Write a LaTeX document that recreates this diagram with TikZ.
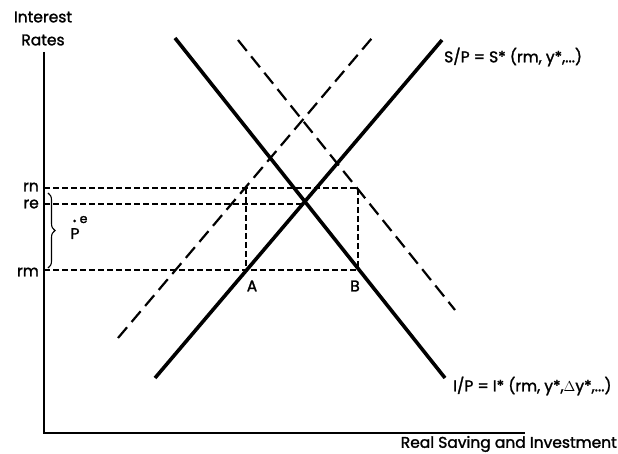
\documentclass[tikz,border=0pt]{standalone}
\usepackage{fontspec}
\setmainfont{Poppins}[FakeBold=1.6]
\usetikzlibrary{decorations.pathreplacing}
\begin{document}
\begin{tikzpicture}[x=1pt,y=-1pt,
  txt/.style={font=\fontsize{15.5}{18}\selectfont, inner sep=0pt},
  curve/.style={line width=3.6pt},
  shifted/.style={line width=2.2pt, dash pattern=on 14pt off 7pt},
  guide/.style={line width=1.3pt, dash pattern=on 6pt off 3pt},
  axis/.style={line width=1.8pt}]
\useasboundingbox (0,0) rectangle (618,454);
% axes
\coordinate (O) at (44,433);
\coordinate (Ytop) at (44,52);
\coordinate (Xend) at (525,433);
\draw[axis] (Ytop) -- (O) -- (Xend);
\node[txt] (ylab1) at (43,17) {Interest};
\node[txt] (ylab2) at (43,40) {Rates};
\node[txt, anchor=east] (xlab) at (617,444) {Real Saving and Investment};
% curves
\coordinate (S1) at (155,378); \coordinate (S2) at (442,40);
\coordinate (I1) at (175,38); \coordinate (I2) at (445,378);
\coordinate (Sp1) at (118,338); \coordinate (Sp2) at (372,38);
\coordinate (Ip1) at (238,40); \coordinate (Ip2) at (455,310);
\draw[curve] (S1) -- (S2);
\draw[curve] (I1) -- (I2);
\draw[shifted] (Sp1) -- (Sp2);
\draw[shifted] (Ip1) -- (Ip2);
\node[txt, anchor=west] (slab) at (444,57) {S/P = S* (rm, y*,...)};
\node[txt, anchor=west] (ilab) at (453,386) {I/P = I* (rm, y*,$\Delta$y*,...)};
% guide lines
\coordinate (rnL) at (44,188); \coordinate (reL) at (44,204); \coordinate (rmL) at (44,270);
\coordinate (A) at (246,270); \coordinate (B) at (358,270);
\coordinate (An) at (246,188); \coordinate (Bn) at (358,188);
\coordinate (E) at (304,204);
\draw[guide] (rnL) -- (Bn) -- (B);
\draw[guide] (reL) -- (E);
\draw[guide] (rmL) -- (B);
\draw[guide] (An) -- (A);
\node[txt] (alab) at (252,286) {A};
\node[txt] (blab) at (355,286) {B};
\node[txt, anchor=east] (rn) at (39,187) {rn};
\node[txt, anchor=east] (re) at (39,204) {re};
\node[txt, anchor=east] (rm) at (39,272) {rm};
% brace
\coordinate (brT) at (48,193); \coordinate (brB) at (48,268);
\draw[line width=1.1pt, decorate, decoration={brace, amplitude=7pt}] (brT) -- (brB);
\node[txt, anchor=base] (pe) at (75,239) {P};
\node[txt, anchor=base west, font=\fontsize{12.5}{14}\selectfont] (pesup) at (79.5,223) {e};
\fill (74.5,221) circle (1.5pt);
\end{tikzpicture}
\end{document}
